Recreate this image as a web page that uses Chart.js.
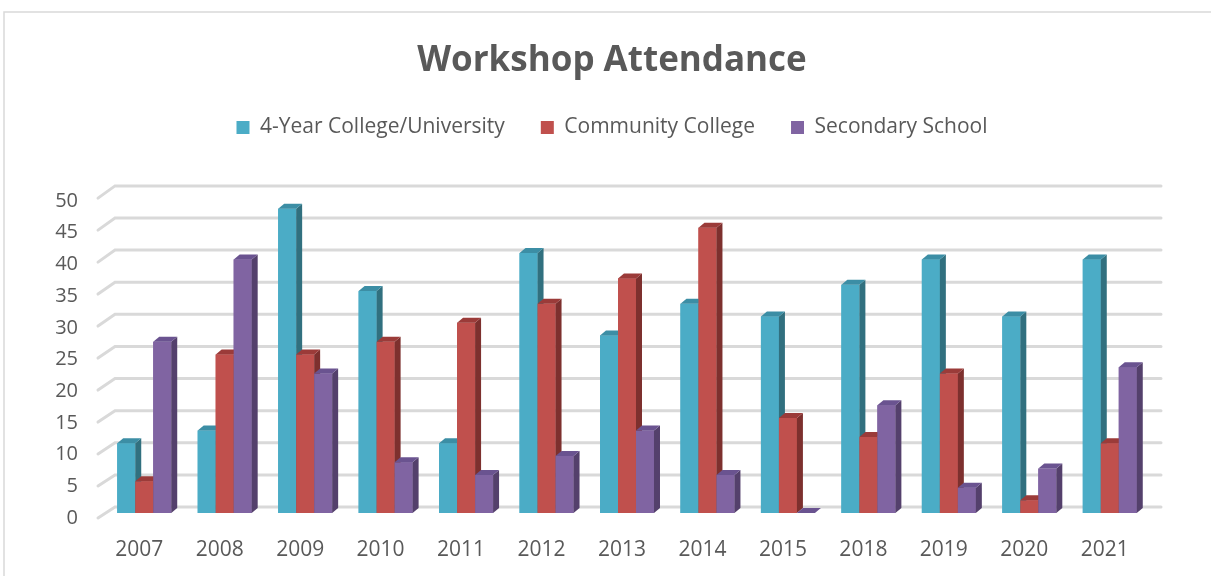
<!DOCTYPE html>
<html>
<head>
<meta charset="utf-8">
<script src="https://cdn.jsdelivr.net/npm/chart.js@4.4.1/dist/chart.umd.min.js"></script>
<style>
  html, body { margin: 0; padding: 0; background: #fff; }
  #wrap { width: 1211px; height: 576px; position: relative; }
</style>
</head>
<body>
<div id="wrap"><canvas id="chart"></canvas></div>
<script>
  // ---- data ----
  const years = ['2007','2008','2009','2010','2011','2012','2013','2014','2015','2018','2019','2020','2021'];
  const university = [11, 13, 48, 35, 11, 41, 28, 33, 31, 36, 40, 31, 40];
  const community  = [5, 25, 25, 27, 30, 33, 37, 45, 15, 12, 22, 2, 11];
  const secondary  = [27, 40, 22, 8, 6, 9, 13, 6, 0, 17, 4, 7, 23];
  const seriesNames = ['4-Year College/University', 'Community College', 'Secondary School'];

  // front / side / top face colours per series
  const FACES = [
    { front: '#4bacc6', side: '#31707f', top: '#3c8ea5' },
    { front: '#c0504d', side: '#7d302e', top: '#9b3b39' },
    { front: '#8064a2', side: '#54406c', top: '#6a5390' }
  ];
  const DX = 6, DY = -5;
  const TEXT = '#595959';
  const FONT = "'Open Sans', sans-serif";

  // back wall gridlines + 3D bar faces
  const wallGrid = {
    id: 'wallGrid',
    beforeDraw(chart) {
      const ctx = chart.ctx;
      ctx.save();
      ctx.strokeStyle = '#d9d9d9';
      ctx.lineWidth = 1.5;
      ctx.beginPath();
      ctx.moveTo(4, 576);
      ctx.lineTo(4, 12);
      ctx.lineTo(1211, 12);
      ctx.stroke();
      ctx.restore();
    },
    beforeDatasetsDraw(chart) {
      const ctx = chart.ctx;
      const y = chart.scales.y;
      const p0 = y.getPixelForValue(0);
      ctx.save();
      ctx.strokeStyle = '#d9d9d9';
      ctx.lineWidth = 3;
      ctx.lineCap = 'round';
      y.ticks.forEach(t => {
        const p = y.getPixelForValue(t.value);
        const front = p0 + 5 + (p - p0) * 1.009;
        const back = p0 - 6 + (p - p0) * 1.013;
        ctx.beginPath();
        ctx.moveTo(98, front);
        ctx.lineTo(115, back);
        ctx.lineTo(1161, back);
        ctx.stroke();
      });
      ctx.restore();
    },
    // chart.js paints the last dataset first; repaint left-to-right per group
    afterDatasetsDraw(chart) {
      const ctx = chart.ctx;
      ctx.save();
      chart.data.datasets.forEach((ds, i) => {
        const f = FACES[i];
        chart.getDatasetMeta(i).data.forEach(bar => {
          const l = bar.x - bar.width / 2, r = bar.x + bar.width / 2;
          const t = bar.y, b = bar.base;
          ctx.fillStyle = f.front;
          ctx.fillRect(l, t, r - l, b - t);
          ctx.fillStyle = f.side;
          ctx.beginPath();
          ctx.moveTo(r, t); ctx.lineTo(r + DX, t + DY);
          ctx.lineTo(r + DX, b + DY); ctx.lineTo(r, b);
          ctx.closePath(); ctx.fill();
          ctx.fillStyle = f.top;
          ctx.beginPath();
          ctx.moveTo(l, t); ctx.lineTo(l + DX, t + DY);
          ctx.lineTo(r + DX, t + DY); ctx.lineTo(r, t);
          ctx.closePath(); ctx.fill();
        });
      });
      ctx.restore();
    }
  };

  // extra room under the legend
  const legendGap = {
    id: 'legendGap',
    beforeInit(chart) {
      const fit = chart.legend.fit;
      chart.legend.fit = function () {
        fit.bind(chart.legend)();
        this.height += 48;
      };
    }
  };

  const datasets = [university, community, secondary].map((d, i) => ({
    label: seriesNames[i],
    data: d,
    backgroundColor: FACES[i].front,
    borderWidth: 0,
    categoryPercentage: 0.671,
    barPercentage: 1.0
  }));

  new Chart(document.getElementById('chart'), {
    type: 'bar',
    data: { labels: years, datasets },
    options: {
      responsive: true,
      maintainAspectRatio: false,
      animation: false,
      layout: { padding: { left: 13, right: 0, top: 0, bottom: 0 } },
      plugins: {
        title: {
          display: true,
          text: 'Workshop Attendance',
          color: TEXT,
          font: { family: FONT, size: 35, weight: 'bold' },
          padding: { top: 40, bottom: -1 }
        },
        legend: {
          position: 'top',
          labels: {
            color: TEXT,
            font: { family: FONT, size: 21 },
            boxWidth: 13,
            boxHeight: 13,
            padding: 36
          }
        },
        tooltip: { enabled: false }
      },
      scales: {
        x: {
          grid: { display: false },
          border: { display: false },
          ticks: { color: TEXT, font: { family: FONT, size: 21 }, padding: 16, maxRotation: 0, labelOffset: -5 },
          afterFit(s) { s.height = 63; }
        },
        y: {
          min: 0, max: 50,
          grid: { display: false },
          border: { display: false },
          ticks: { stepSize: 5, color: TEXT, font: { family: FONT, size: 20 }, padding: 18, labelOffset: 5 },
          afterFit(s) { s.width = 91; }
        },
        // empty right-hand spacer so the plot ends where the original does
        spacer: {
          type: 'linear',
          position: 'right',
          grid: { display: false },
          border: { display: false },
          ticks: { display: false },
          afterFit(s) { s.width = 61; }
        }
      }
    },
    plugins: [wallGrid, legendGap]
  });
</script>
</body>
</html>
